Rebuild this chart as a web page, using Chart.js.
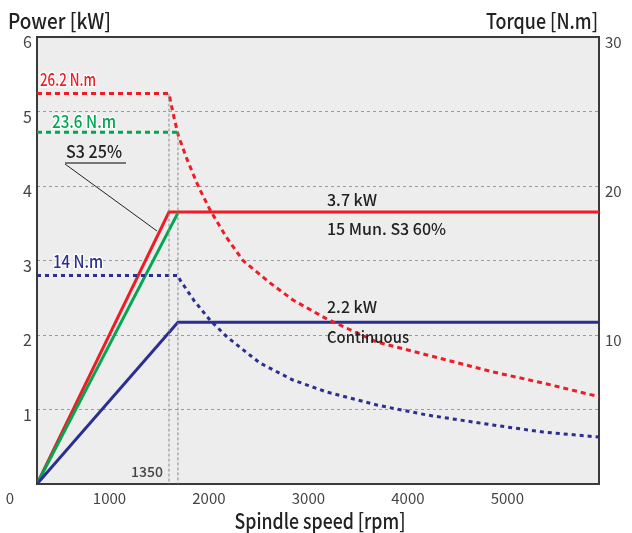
<!DOCTYPE html>
<html><head><meta charset="utf-8">
<script src="https://cdn.jsdelivr.net/npm/chart.js@4"></script>
<style>html,body{margin:0;padding:0;background:#fff}#wrap{width:632px;height:533px;position:relative}</style>
</head><body><div id="wrap"><canvas id="c" width="632" height="533"></canvas></div>
<script>
const FONT = '"Noto Sans CJK KR", "Open Sans", sans-serif';

// ---- data ----
const xTickValues = [0, 1000, 2000, 3000, 4000, 5000];
const powerTickValues = [0, 1, 2, 3, 4, 5, 6];
const torqueTickValues = [10, 20, 30];

// S3 25% / 15 min S3 60% power (kW)
const redPowerRpm = [0, 1327, 5650];
const redPowerKw = [0, 3.65, 3.65];
// S3 25% ramp (green)
const greenPowerRpm = [0, 1417];
const greenPowerKw = [0, 3.64];
// Continuous power (kW)
const bluePowerRpm = [0, 1417, 5650];
const bluePowerKw = [0, 2.17, 2.17];

// Torque curves (N.m)
const redTorqueRpm = [0, 1327, 1367, 1420, 1508, 1620, 1739, 1900, 2070, 2342, 2573, 2915, 3417, 3920, 4583, 5085, 5650];
const redTorqueNm = [26.2, 26.2, 24.9, 23.4, 21.8, 20.0, 18.4, 16.6, 15.0, 13.5, 12.35, 11.07, 9.53, 8.66, 7.52, 6.78, 5.86];
const greenTorqueRpm = [0, 1417];
const greenTorqueNm = [23.6, 23.6];
const blueTorqueRpm = [0, 1417, 1437, 1580, 1739, 1910, 2241, 2573, 2915, 3417, 3920, 4583, 5085, 5650];
const blueTorqueNm = [14.0, 14.0, 13.7, 12.3, 11.0, 9.87, 8.12, 6.98, 6.17, 5.30, 4.63, 3.96, 3.49, 3.15];

// guide lines at corner speeds
const guide1Rpm = [1327, 1327];
const guide1Nm = [26.2, 0];
const guide2Rpm = [1417, 1417];
const guide2Nm = [23.6, 0];

const RED = '#ee1c25', GREEN = '#00a651', BLUE = '#2b2f8f';

function pts(xs, ys) { return xs.map((x, i) => ({ x: x, y: ys[i] })); }
function ds(xs, ys, color, axis, dash, width) {
  return {
    data: pts(xs, ys), yAxisID: axis, borderColor: color, backgroundColor: color,
    borderWidth: width || 3, borderDash: dash || [], pointRadius: 0, pointHoverRadius: 0,
    tension: 0, fill: false, borderCapStyle: 'butt', borderJoinStyle: 'miter'
  };
}

const bgPlugin = {
  id: 'bg',
  beforeDraw(chart) {
    const { ctx, chartArea: a } = chart;
    ctx.save();
    ctx.fillStyle = '#ededed';
    ctx.fillRect(a.left, a.top, a.right - a.left, a.bottom - a.top);
    ctx.restore();
  },
  beforeDatasetsDraw(chart) {
    const { ctx, chartArea: a } = chart;
    ctx.save();
    ctx.strokeStyle = '#3a3a3a';
    ctx.lineWidth = 2;
    ctx.strokeRect(a.left, a.top, a.right - a.left, a.bottom - a.top);
    ctx.restore();
  },
  afterDatasetsDraw(chart) {
    const { ctx } = chart;
    ctx.save();
    function txt(s, x, y, color, size, align, halo, maxW) {
      ctx.font = '500 ' + size + 'px ' + FONT;
      ctx.textAlign = align || 'left';
      ctx.textBaseline = 'middle';
      if (halo) {
        ctx.lineWidth = 3; ctx.strokeStyle = '#ffffff'; ctx.lineJoin = 'round';
        if (maxW) ctx.strokeText(s, x, y, maxW); else ctx.strokeText(s, x, y);
      }
      ctx.fillStyle = color;
      if (maxW) ctx.fillText(s, x, y, maxW); else ctx.fillText(s, x, y);
    }
    // titles
    txt('Power [kW]', 8, 21, '#222', 21, 'left', false, 103);
    txt('Torque [N.m]', 598, 21, '#222', 21, 'right', false, 112);
    txt('Spindle speed [rpm]', 320, 521, '#222', 21, 'center', false, 171);
    // curve labels
    txt('26.2 N.m', 40, 80, RED, 17, 'left', true, 56);
    txt('23.6 N.m', 52, 122, GREEN, 17, 'left', true, 64);
    txt('14 N.m', 53, 262, BLUE, 17, 'left', true, 50);
    txt('S3 25%', 66, 152, '#222', 17, 'left', false, 56);
    txt('3.7 kW', 327, 200, '#222', 16, 'left', false, 52);
    txt('15 Mun. S3 60%', 327, 229, '#222', 16, 'left', false, 121);
    txt('2.2 kW', 327, 307, '#222', 16, 'left', false, 52);
    txt('Continuous', 327, 337, '#222', 16, 'left', false, 82);
    txt('1350', 163, 472, '#444', 14, 'right');
    // S3 25% leader
    ctx.strokeStyle = '#777'; ctx.lineWidth = 2;
    ctx.beginPath(); ctx.moveTo(65, 163); ctx.lineTo(126, 163); ctx.stroke();
    ctx.strokeStyle = '#222'; ctx.lineWidth = 1;
    ctx.beginPath(); ctx.moveTo(65, 164); ctx.lineTo(157, 231); ctx.stroke();
    ctx.restore();
  }
};

new Chart(document.getElementById('c'), {
  type: 'line',
  data: {
    datasets: [
      ds(guide1Rpm, guide1Nm, '#8a8a8a', 'y2', [3, 2], 1),
      ds(guide2Rpm, guide2Nm, '#8a8a8a', 'y2', [3, 2], 1),
      ds(blueTorqueRpm, blueTorqueNm, BLUE, 'y2', [4, 4], 3),
      ds(greenTorqueRpm, greenTorqueNm, GREEN, 'y2', [5, 4], 3),
      ds(redTorqueRpm, redTorqueNm, RED, 'y2', [5, 4], 3),
      ds(bluePowerRpm, bluePowerKw, BLUE, 'y', [], 3),
      ds(greenPowerRpm, greenPowerKw, GREEN, 'y', [], 3),
      ds(redPowerRpm, redPowerKw, RED, 'y', [], 3)
    ]
  },
  options: {
    responsive: false, animation: false, devicePixelRatio: 1,
    layout: { padding: { top: 37, left: 0, right: 0, bottom: 0 } },
    plugins: { legend: { display: false }, tooltip: { enabled: false } },
    scales: {
      x: {
        type: 'linear', min: 0, max: 5650,
        afterFit(s) { s.height = 49; },
        afterBuildTicks(s) { s.ticks = xTickValues.map(v => ({ value: v })); },
        grid: { display: false, drawTicks: false }, border: { display: false },
        ticks: {
          autoSkip: false, maxRotation: 0, minRotation: 0, labelOffset: -27, padding: 5,
          color: '#444', font: { family: FONT, size: 15 },
          callback: v => String(v)
        }
      },
      y: {
        position: 'left', min: 0, max: 6,
        afterFit(s) { s.width = 37; },
        afterBuildTicks(s) { s.ticks = powerTickValues.map(v => ({ value: v })); },
        grid: { color: '#9a9a9a', lineWidth: 1, drawTicks: false },
        border: { display: false, dash: [3, 3] },
        ticks: {
          autoSkip: false, padding: 5, labelOffset: 5, color: '#444', font: { family: FONT, size: 16 },
          callback: v => v === 0 ? '' : String(v)
        }
      },
      y2: {
        position: 'right', min: 0, max: 30,
        afterFit(s) { s.width = 33; },
        afterBuildTicks(s) { s.ticks = torqueTickValues.map(v => ({ value: v })); },
        grid: { display: false, drawTicks: false }, border: { display: false },
        ticks: {
          autoSkip: false, padding: 6, labelOffset: 5, color: '#444', font: { family: FONT, size: 15 },
          callback: v => String(v)
        }
      }
    }
  },
  plugins: [bgPlugin]
});
</script></body></html>
